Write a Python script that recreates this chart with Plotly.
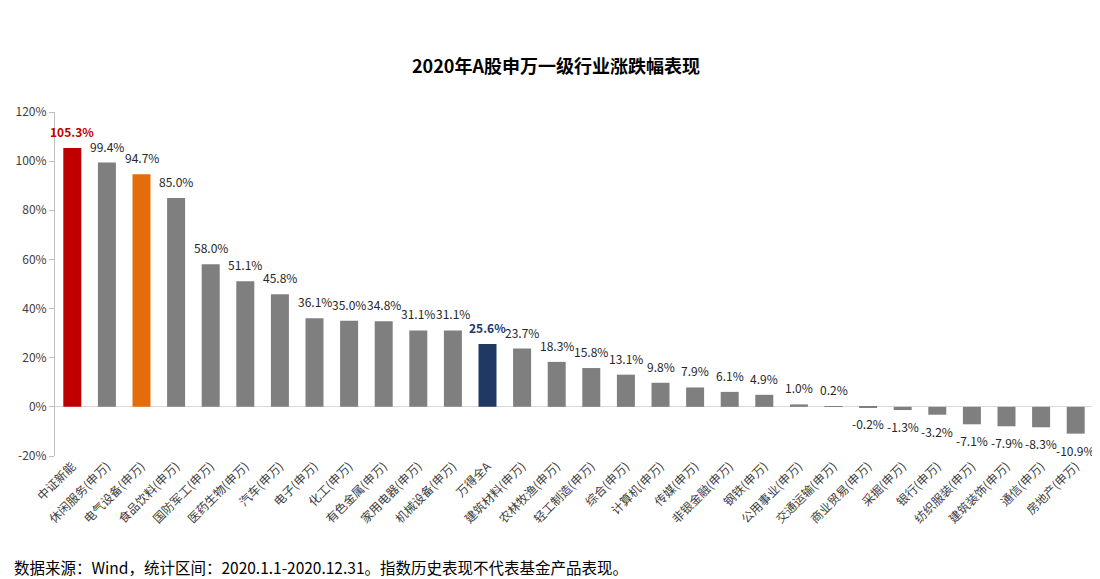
import plotly.graph_objects as go

categories = ["中证新能", "休闲服务(申万)", "电气设备(申万)", "食品饮料(申万)", "国防军工(申万)",
              "医药生物(申万)", "汽车(申万)", "电子(申万)", "化工(申万)", "有色金属(申万)",
              "家用电器(申万)", "机械设备(申万)", "万得全A", "建筑材料(申万)", "农林牧渔(申万)",
              "轻工制造(申万)", "综合(申万)", "计算机(申万)", "传媒(申万)", "非银金融(申万)",
              "钢铁(申万)", "公用事业(申万)", "交通运输(申万)", "商业贸易(申万)", "采掘(申万)",
              "银行(申万)", "纺织服装(申万)", "建筑装饰(申万)", "通信(申万)", "房地产(申万)"]
values = [105.3, 99.4, 94.7, 85.0, 58.0, 51.1, 45.8, 36.1, 35.0, 34.8,
          31.1, 31.1, 25.6, 23.7, 18.3, 15.8, 13.1, 9.8, 7.9, 6.1,
          4.9, 1.0, 0.2, -0.2, -1.3, -3.2, -7.1, -7.9, -8.3, -10.9]
y_ticks = [-20, 0, 20, 40, 60, 80, 100, 120]

GRAY = "#7F7F7F"
bar_colors = [GRAY] * len(values)
bar_colors[0] = "#C00000"
bar_colors[2] = "#E46C0A"
bar_colors[12] = "#1F3864"

label_colors = ["#262626"] * len(values)
label_colors[0] = "#C00000"
label_colors[12] = "#1F3864"

FONT = "Microsoft YaHei, Noto Sans CJK SC, sans-serif"

# page has an 8px body margin; figure is sized to compensate
W, H = 1092, 571
L, R, T, B = 47, 7, 104, 123
plot_h = H - T - B

fig = go.Figure(go.Bar(
    x=categories, y=values,
    marker=dict(color=bar_colors, line=dict(width=0)),
    hoverinfo="x+y",
))

annotations = []
for i, (c, v) in enumerate(zip(categories, values)):
    t = f"{v:.1f}%"
    if i in (0, 12):
        t = f"<b>{t}</b>"
    pos = v >= 0
    annotations.append(dict(
        x=c, y=v, xref="x", yref="y", text=t, showarrow=False,
        yanchor="bottom" if pos else "top", yshift=6 if pos else -6,
        font=dict(size=12, color=label_colors[i], family=FONT),
    ))

annotations.append(dict(
    text="数据来源：Wind，统计区间：2020.1.1-2020.12.31。指数历史表现不代表基金产品表现。",
    xref="paper", yref="paper", x=-(L - 4) / (W - L - R), y=-(559 - (H - B)) / plot_h,
    xanchor="left", yanchor="middle", showarrow=False,
    font=dict(size=15.5, color="black", family=FONT)))

fig.update_layout(
    width=W, height=H,
    margin=dict(l=L, r=R, t=T, b=B),
    paper_bgcolor="white", plot_bgcolor="white",
    font=dict(family=FONT, size=12, color="#262626"),
    bargap=0.48,
    showlegend=False,
    title=dict(text="<b>2020年A股申万一级行业涨跌幅表现</b>", x=(548) / W, xanchor="center",
               y=1 - 59 / H, yanchor="middle", font=dict(size=18, color="black", family=FONT)),
    xaxis=dict(range=[-0.5, len(categories) - 0.5], tickangle=-45, showline=False, ticks="",
               showgrid=False, tickfont=dict(size=12, color="#404040"), automargin=False),
    yaxis=dict(range=[-20, 120], tickvals=y_ticks, ticktext=[f"{t}%" for t in y_ticks],
               showgrid=False, showline=True, linecolor="#BFBFBF", linewidth=1,
               ticks="outside", ticklen=5, tickcolor="#BFBFBF",
               zeroline=True, zerolinecolor="#D9D9D9", zerolinewidth=1,
               tickfont=dict(size=12, color="#404040"), automargin=False),
    annotations=annotations,
)

fig.write_html("out.html")
